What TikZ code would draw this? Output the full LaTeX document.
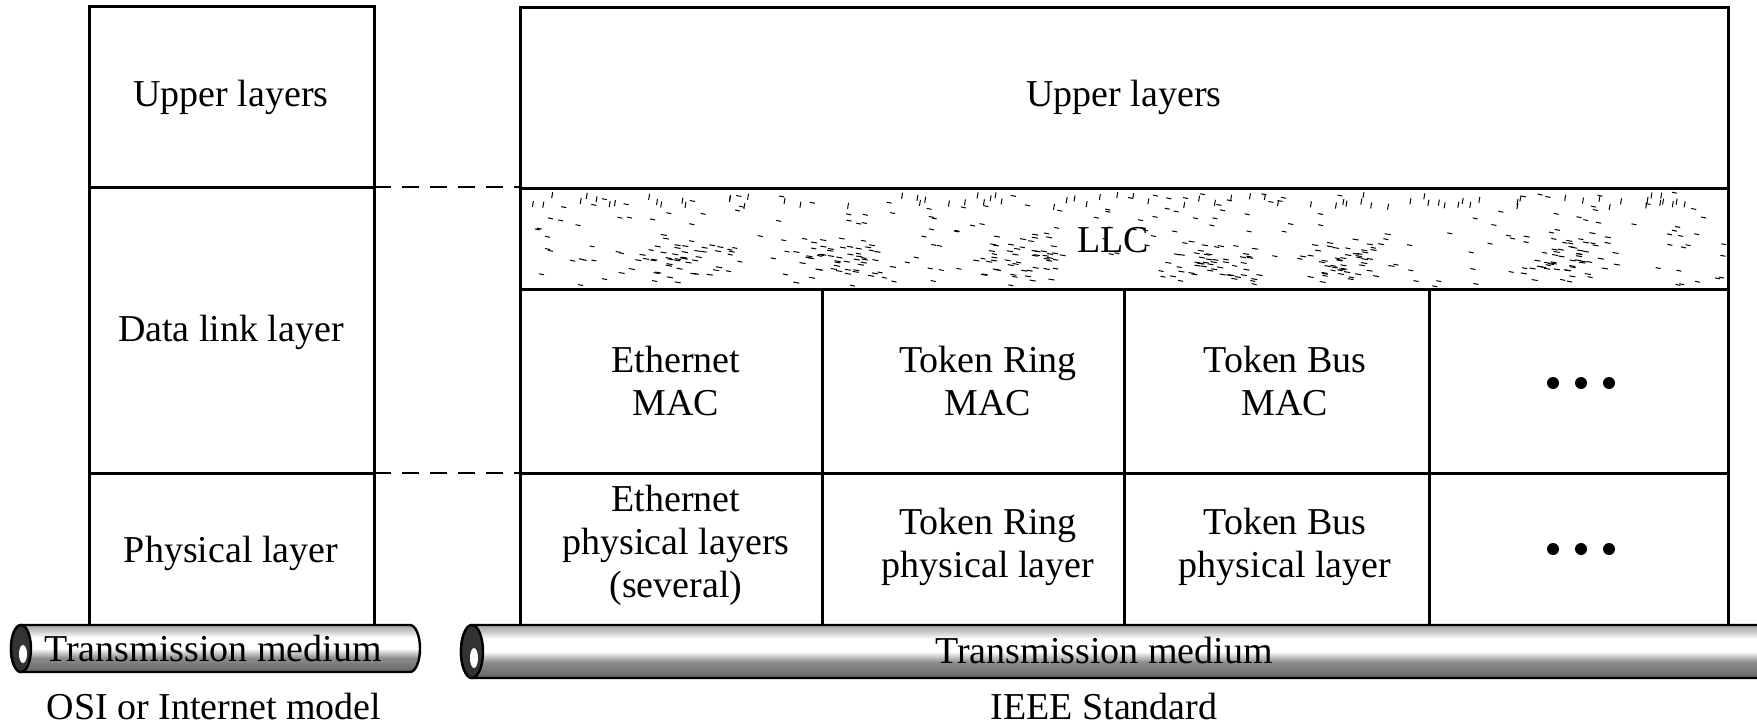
\documentclass[tikz,border=0pt]{standalone}
\usepackage{fontspec}
\setmainfont{Liberation Serif}
\pgfdeclareverticalshading{pipeshade}{100bp}{color(0bp)=(black!60); color(25bp)=(black!60); color(40bp)=(black!45); color(50bp)=(white); color(62bp)=(white); color(70bp)=(black!25); color(75bp)=(black!35); color(100bp)=(black!35)}
\begin{document}
\begin{tikzpicture}[x=0.5pt,y=-0.5pt,
  box/.style={draw=black, line width=1.5pt},
  lbl/.style={font=\fontsize{19}{21.5}\selectfont, align=center, inner sep=0pt},
  dashln/.style={dashed, dash pattern=on 8.5pt off 5.5pt, line width=1.2pt},
  speck/.style={line width=0.5pt},
  pdot/.style={circle, fill=black, inner sep=0pt, minimum size=6pt},
  pipeline/.style={draw=black, line width=1.2pt}]
\clip (0,0) rectangle (1757,724);
% ---------- LLC texture ----------
\pgfmathsetseed{12}
\begin{scope}
\clip (520,188) rectangle (1728,289);
\foreach \cx in {672,840,1020,1220,1345,1570}{
  \foreach \k in {1,...,45}{
    \pgfmathsetmacro{\px}{\cx+30*(rand+rand)}
    \pgfmathsetmacro{\py}{258+14*(rand+rand)}
    \draw[speck] (\px,\py) -- ++(6,1);
  }
}
\foreach \k in {1,...,220}{
  \pgfmathsetmacro{\px}{524+1200*rnd}
  \pgfmathsetmacro{\py}{192+94*rnd}
  \draw[speck] (\px,\py) -- ++(5,1);
}
\foreach \k in {1,...,80}{
  \pgfmathsetmacro{\px}{524+1200*rnd}
  \pgfmathsetmacro{\py}{192+12*rnd}
  \draw[speck] (\px,\py) -- ++(-1,6);
}
\end{scope}
% ---------- left stack ----------
\draw[box] (89,6) rectangle (374,625);
\draw[box] (89,187) -- (374,187);
\draw[box] (89,473) -- (374,473);
\coordinate (L1) at (374,187);
\coordinate (L2) at (374,473);
% ---------- right stack ----------
\draw[box] (520,7) rectangle (1728,625);
\draw[box] (520,188) -- (1728,188);
\draw[box] (520,289) -- (1728,289);
\draw[box] (520,473) -- (1728,473);
\draw[box] (822,289) -- (822,625);
\draw[box] (1124,289) -- (1124,625);
\draw[box] (1429,289) -- (1429,625);
\coordinate (R1) at (520,187);
\coordinate (R2) at (520,473);
% ---------- dashed connectors ----------
\draw[dashln] (L1) -- (R1);
\draw[dashln] (L2) -- (R2);
% ---------- texts ----------
\node[lbl] (lup) at (231,97) {Upper layers};
\node[lbl] (ldl) at (231,332) {Data link layer};
\node[lbl] (lph) at (231,553) {Physical layer};
\node[lbl] (rup) at (1124,97) {Upper layers};
\node[lbl] (llc) at (1113,240) {LLC};
\node[lbl] (emac) at (676,381) {Ethernet\\MAC};
\node[lbl] (trmac) at (988,381) {Token Ring\\MAC};
\node[lbl] (tbmac) at (1285,381) {Token Bus\\MAC};
\node[pdot] (d1) at (1553,383) {};
\node[pdot] (d2) at (1581,383) {};
\node[pdot] (d3) at (1609,383) {};
\node[lbl] (ephy) at (676,545) {Ethernet\\physical layers\\(several)};
\node[lbl] (trphy) at (988,547) {Token Ring\\physical layer};
\node[lbl] (tbphy) at (1285,547) {Token Bus\\physical layer};
\node[pdot] (e1) at (1553,549) {};
\node[pdot] (e2) at (1581,549) {};
\node[pdot] (e3) at (1609,549) {};
% ---------- left pipe ----------
\shade[shading=pipeshade] (21,625) -- (410,625) arc[start angle=-90,end angle=90,x radius=10,y radius=23.5] -- (21,672) arc[start angle=90,end angle=270,x radius=10,y radius=23.5] -- cycle;
\draw[pipeline] (21,625) -- (410,625) arc[start angle=-90,end angle=90,x radius=10,y radius=23.5] -- (21,672) arc[start angle=90,end angle=270,x radius=10,y radius=23.5] -- cycle;
\filldraw[pipeline, fill=black!80] (21,648.5) ellipse[x radius=10, y radius=23.5];
\fill[white] (23,654) ellipse[x radius=4, y radius=9];
\node[lbl] (lmed) at (213,648) {Transmission medium};
\node[lbl] (losi) at (214,706) {OSI or Internet model};
% ---------- right pipe ----------
\shade[shading=pipeshade] (472,625) -- (1800,625) -- (1800,678) -- (472,678) arc[start angle=90,end angle=270,x radius=11,y radius=26.5] -- cycle;
\draw[pipeline] (1800,625) -- (472,625) arc[start angle=270,end angle=90,x radius=11,y radius=26.5] -- (1800,678);
\filldraw[pipeline, fill=black!80] (472,651.5) ellipse[x radius=11, y radius=26.5];
\fill[white] (474,658) ellipse[x radius=4, y radius=10];
\node[lbl] (rmed) at (1104,650) {Transmission medium};
\node[lbl] (rieee) at (1104,706) {IEEE Standard};
\end{tikzpicture}
\end{document}
